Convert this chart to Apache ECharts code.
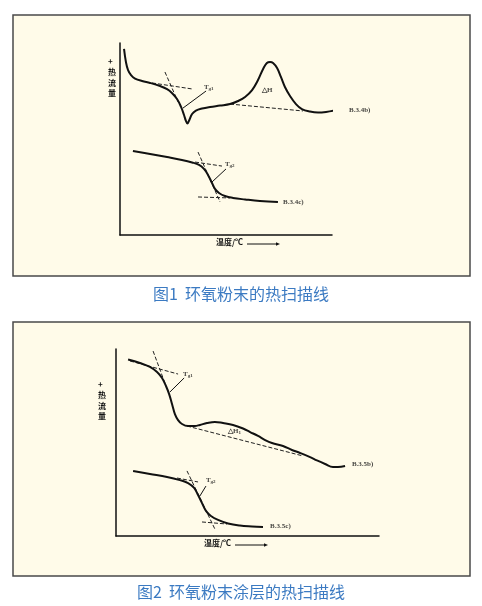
<!DOCTYPE html>
<html>
<head>
<meta charset="utf-8">
<script src="https://cdn.jsdelivr.net/npm/echarts@6/dist/echarts.min.js"></script>
<style>
  html, body { margin: 0; padding: 0; background: #fff; }
  #main { width: 482px; height: 606px; }
</style>
</head>
<body>
<div id="main"></div>
<script>
// 图1 —— 环氧粉末 (x: 温度, y: 热流量, 任意单位 0~100)
const p1CurveB = [
  [1.9, 96.9], [2.8, 90.1], [3.8, 85.9], [5.2, 83.3], [7.1, 81.5], [10.4, 80.2],
  [14.2, 79.2], [18.9, 77.6], [22.2, 76.0], [24.5, 74.0], [26.9, 70.8], [28.8, 66.7],
  [30.2, 62.5], [31.1, 59.4], [31.8, 58.1], [32.5, 59.4], [34.0, 63.0], [35.8, 64.8],
  [38.7, 65.9], [42.5, 66.7], [47.2, 67.4], [51.9, 68.2], [55.7, 69.8], [59.0, 71.9],
  [62.3, 75.5], [65.1, 80.7], [67.5, 86.5], [69.3, 89.6], [70.8, 90.1], [72.2, 89.6],
  [74.1, 87.0], [75.9, 82.3], [77.8, 77.1], [80.2, 72.4], [83.0, 68.2], [85.8, 65.6],
  [89.6, 64.3], [93.4, 63.8], [97.2, 64.1], [100.9, 64.8], [105.2, 66.1]
];
const p1CurveC = [
  [6.1, 43.8], [14.2, 42.2], [22.2, 40.6], [29.2, 39.1], [34.0, 37.8], [37.3, 36.5],
  [39.6, 34.4], [41.5, 31.3], [43.4, 27.1], [44.8, 24.0], [46.7, 21.9], [49.5, 20.3],
  [53.3, 19.3], [59.0, 18.5], [66.0, 17.7], [74.5, 17.2]
];
const p1Tangents = [
  [[15.1, 79.2], [34.4, 76.0]],
  [[21.2, 84.9], [27.4, 69.3]],
  [[51.9, 68.2], [86.3, 64.6]],
  [[35.4, 38.0], [48.1, 35.9]],
  [[36.8, 43.2], [47.2, 17.2]],
  [[36.8, 19.8], [51.9, 19.3]]
];
const p1Arrows = [
  [[40.6, 75.0], [29.7, 66.1]],
  [[50.0, 34.4], [43.4, 27.6]]
];
const p1Labels = [
  [39.6, 77.1, 'Tg1'], [67.0, 75.5, '△H'], [108.0, 65.1, 'B.3.4b)'],
  [49.5, 37.0, 'Tg2'], [76.9, 17.2, 'B.3.4c)']
];

// 图2 —— 环氧粉末涂层
const p2CurveB = [
  [4.6, 94.4], [9.1, 92.5], [12.9, 90.4], [15.6, 87.7], [17.5, 84.5], [19.0, 80.2],
  [20.2, 75.9], [21.3, 70.6], [22.4, 65.2], [23.6, 62.0], [25.1, 59.9], [27.4, 58.8],
  [30.0, 58.8], [31.9, 59.4], [34.6, 60.4], [37.6, 61.0], [40.7, 60.4], [44.5, 59.4],
  [48.3, 57.5], [51.0, 55.6], [54.0, 53.5], [56.7, 51.3], [59.3, 49.7], [63.5, 48.1],
  [66.9, 46.0], [70.0, 44.4], [73.8, 42.2], [76.4, 40.4], [79.5, 38.5], [82.5, 36.9],
  [84.4, 36.9], [87.1, 37.4]
];
const p2CurveC = [
  [6.5, 34.8], [12.9, 33.2], [19.4, 31.6], [24.3, 29.9], [27.4, 28.3], [29.7, 25.7],
  [31.2, 21.9], [32.7, 17.6], [34.2, 13.4], [36.1, 10.7], [38.8, 8.6], [42.6, 6.7],
  [47.1, 5.6], [51.7, 5.1], [55.9, 4.8]
];
const p2Tangents = [
  [[5.3, 93.6], [23.6, 86.6]],
  [[14.1, 98.9], [18.6, 81.8]],
  [[27.0, 58.8], [71.1, 42.8]],
  [[23.2, 31.0], [31.2, 28.9]],
  [[27.0, 34.8], [37.6, 3.7]],
  [[32.7, 7.5], [42.2, 6.4]]
];
const p2Arrows = [
  [[25.9, 84.5], [20.5, 77.0]],
  [[34.2, 26.7], [31.9, 21.4]]
];
const p2Labels = [
  [25.5, 86.6, 'Tg1'], [42.6, 56.1, '△H1'], [89.7, 38.5, 'B.3.5b)'],
  [34.2, 29.9, 'Tg2'], [58.6, 5.3, 'B.3.5c)']
];

const captions = ['图1  环氧粉末的热扫描线', '图2  环氧粉末涂层的热扫描线'];
const yName = '+\n热\n流\n量';
const xName = '温度/℃';

const myChart = echarts.init(document.getElementById('main'));

function axisPair(idx) {
  return {
    type: 'value', min: 0, max: 100, gridIndex: idx,
    axisLine: { show: true, lineStyle: { color: '#111', width: 1.5 } },
    axisTick: { show: false }, axisLabel: { show: false }, splitLine: { show: false }
  };
}

function curve(data, idx) {
  return {
    type: 'line', data: data, xAxisIndex: idx, yAxisIndex: idx,
    smooth: 0.4, showSymbol: false, clip: false, z: 5,
    lineStyle: { color: '#111', width: 2 }
  };
}

function tangent(pair, idx) {
  return {
    type: 'line', data: pair, xAxisIndex: idx, yAxisIndex: idx,
    showSymbol: false, clip: false, z: 4,
    lineStyle: { color: '#222', width: 1, type: [4, 2] }
  };
}

function arrows(list, idx) {
  return {
    type: 'line', data: [], xAxisIndex: idx, yAxisIndex: idx,
    markLine: {
      silent: true, symbol: ['none', 'arrow'], symbolSize: [0, 5], animation: false,
      label: { show: false },
      lineStyle: { color: '#111', width: 1, type: 'solid' },
      data: list.map(a => [{ coord: a[0] }, { coord: a[1] }])
    }
  };
}

function labels(list, idx) {
  return {
    type: 'scatter', data: list, xAxisIndex: idx, yAxisIndex: idx,
    symbolSize: 0, clip: false, z: 6,
    label: {
      show: true, position: 'right', distance: 0,
      fontFamily: 'Liberation Serif', fontSize: 7, fontWeight: 'bold', color: '#111',
      formatter: p => {
        const t = p.value[2];
        if (/^Tg\d$/.test(t)) return '{t|T}{s|' + t.slice(1) + '}';
        if (/^△H\d$/.test(t)) return '{t|△H}{s|' + t.slice(2) + '}';
        return t;
      },
      rich: {
        t: { fontFamily: 'Liberation Serif', fontSize: 7, color: '#111' },
        s: { fontFamily: 'Liberation Serif', fontSize: 5, color: '#111', padding: [4, 0, 0, 0] }
      }
    }
  };
}

function xLabel(x, y, len) {
  return {
    type: 'group', left: x, top: y, z: 10,
    children: [
      { type: 'text', left: 0, top: 0,
        style: { text: xName, fontFamily: 'Noto Sans CJK SC', fontSize: 8, fontWeight: 'bold', fill: '#111' } },
      { type: 'line', shape: { x1: 31, y1: 6, x2: 31 + len, y2: 6 },
        style: { stroke: '#111', lineWidth: 1 } },
      { type: 'polygon', shape: { points: [[31 + len, 4.3], [35 + len, 6], [31 + len, 7.7]] },
        style: { fill: '#111' } }
    ]
  };
}

function yLabel(x, y) {
  return {
    type: 'text', left: x, top: y, z: 10,
    style: { text: yName, fontFamily: 'Noto Sans CJK SC', fontSize: 8, fontWeight: 'bold',
      fill: '#111', lineHeight: 10.7, align: 'center' }
  };
}

const series = [
  curve(p1CurveB, 0), curve(p1CurveC, 0),
  ...p1Tangents.map(t => tangent(t, 0)),
  arrows(p1Arrows, 0), labels(p1Labels, 0),
  curve(p2CurveB, 1), curve(p2CurveC, 1),
  ...p2Tangents.map(t => tangent(t, 1)),
  arrows(p2Arrows, 1), labels(p2Labels, 1)
];

const option = {
  animation: false,
  backgroundColor: '#fff',
  title: captions.map((c, i) => ({
    text: c, left: 'center', top: i === 0 ? 281 : 579,
    textStyle: { fontFamily: 'Noto Sans CJK SC', fontSize: 16, fontWeight: 'normal', color: '#3b7ac2' }
  })),
  grid: [
    { left: 120, top: 43, width: 212, height: 192 },
    { left: 116, top: 349, width: 263, height: 187 }
  ],
  xAxis: [axisPair(0), axisPair(1)],
  yAxis: [axisPair(0), axisPair(1)],
  graphic: [
    { type: 'rect', z: -10, shape: { x: 13, y: 15, width: 457, height: 261 },
      style: { fill: '#fffbe9', stroke: '#4a4a4a', lineWidth: 1.5 } },
    { type: 'rect', z: -10, shape: { x: 13, y: 322, width: 457, height: 254 },
      style: { fill: '#fffbe9', stroke: '#4a4a4a', lineWidth: 1.5 } },
    yLabel(108, 56), yLabel(98, 379),
    xLabel(216, 238, 29), xLabel(204, 539, 29)
  ],
  series: series
};

myChart.setOption(option);
window.onresize = myChart.resize;
</script>
</body>
</html>
